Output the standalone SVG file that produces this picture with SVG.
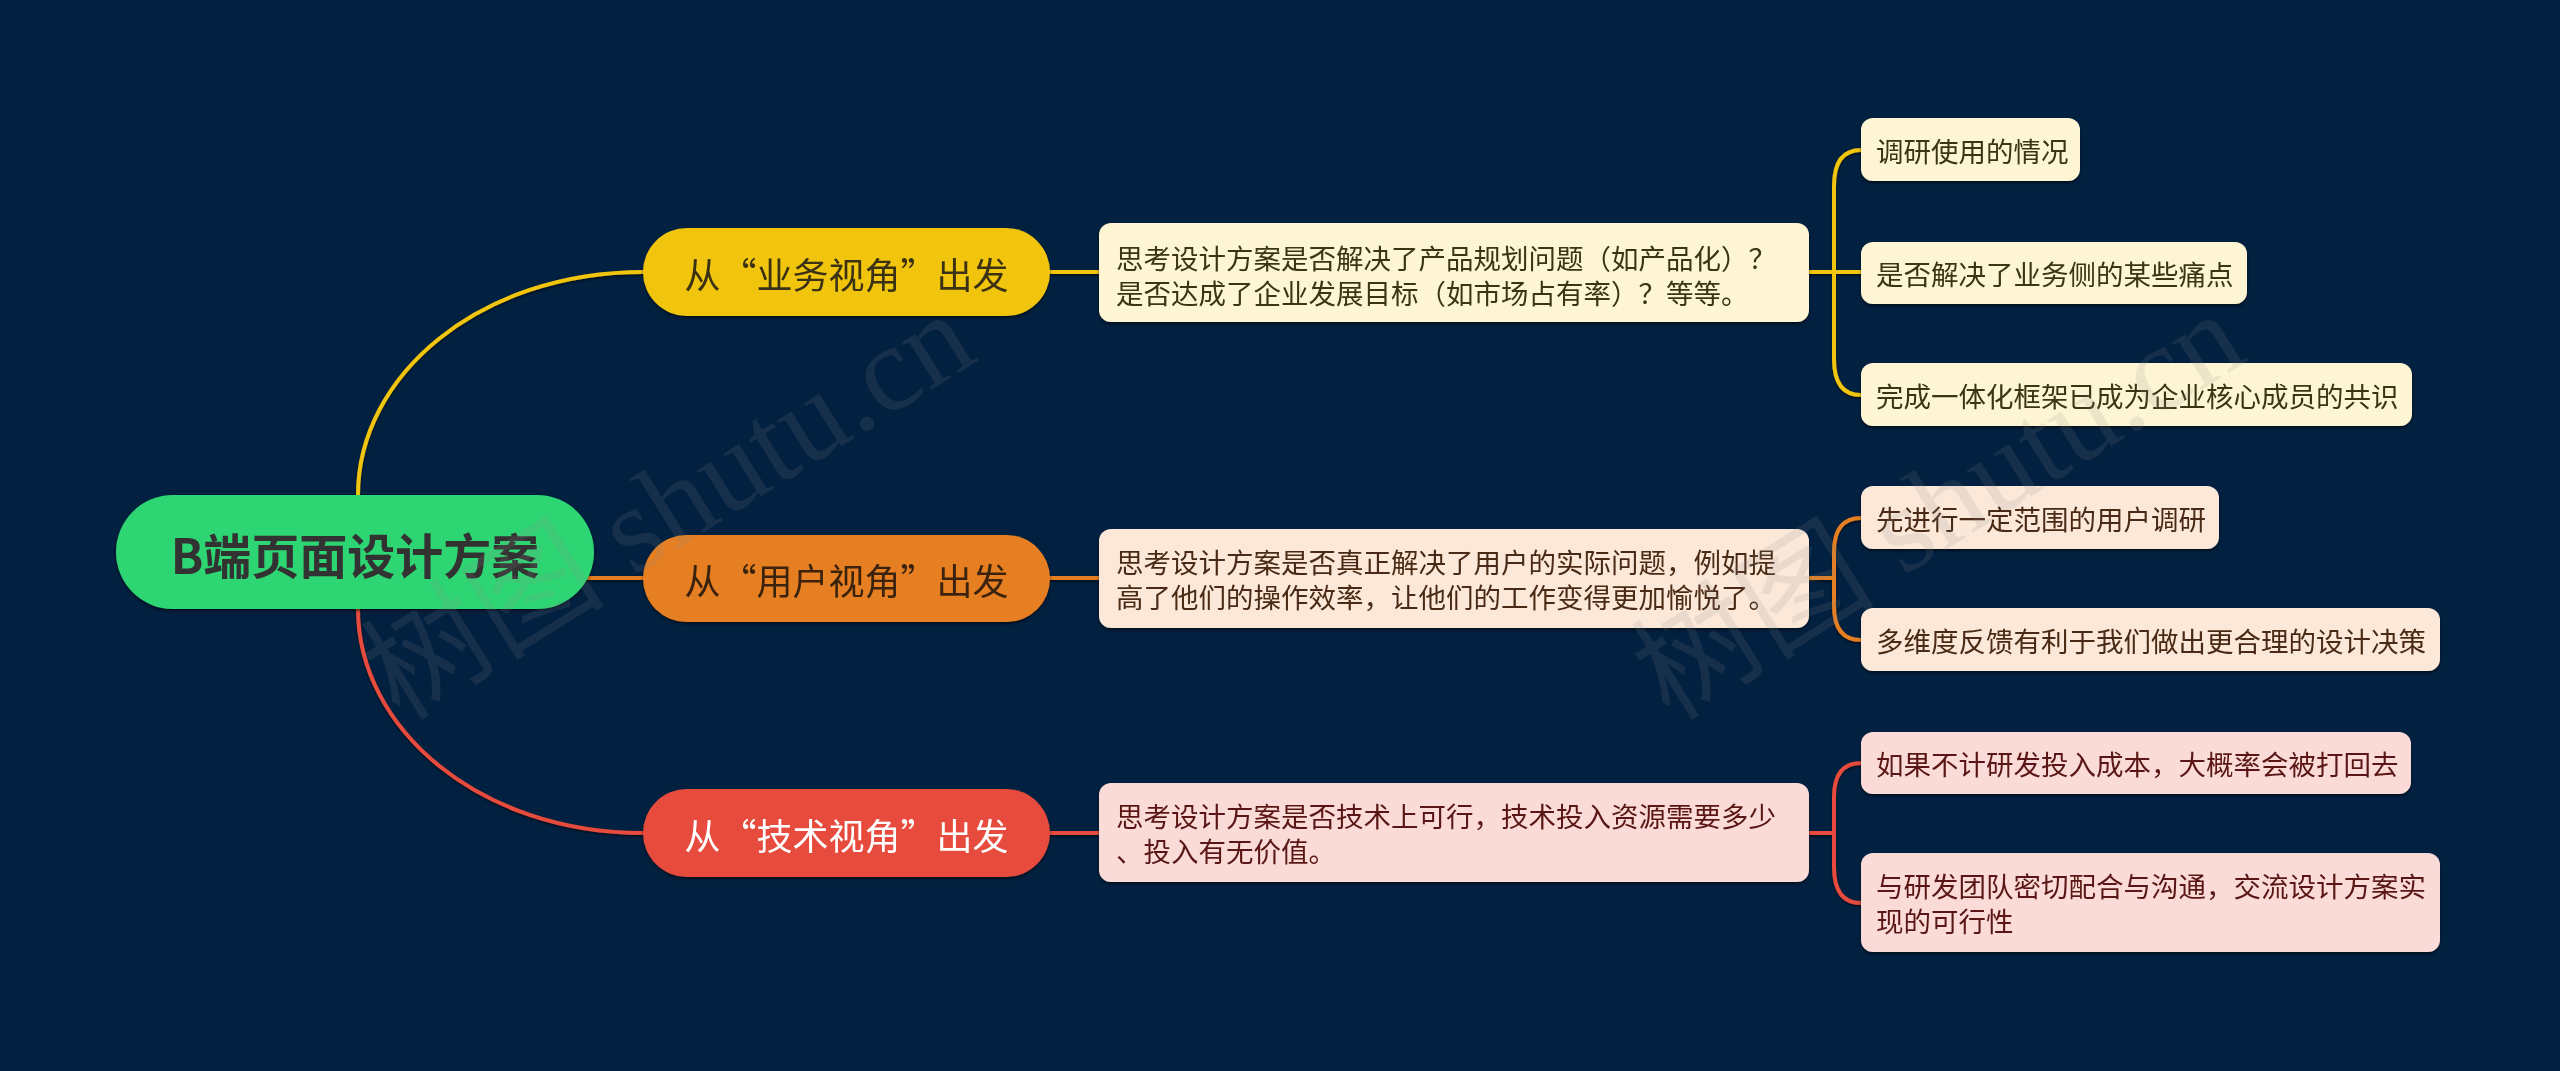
<svg xmlns="http://www.w3.org/2000/svg" width="2560" height="1071" viewBox="0 0 2560 1071">
<defs>
<filter id="sh" x="-10%" y="-20%" width="120%" height="150%">
<feDropShadow dx="0" dy="2" stdDeviation="1.5" flood-color="#000" flood-opacity="0.55"/>
</filter>
<filter id="lsh" x="-5%" y="-5%" width="110%" height="110%">
<feDropShadow dx="0" dy="1.5" stdDeviation="1" flood-color="#000" flood-opacity="0.6"/>
</filter>
</defs>
<style>
text{font-family:"Noto Sans CJK SC","Noto Sans",sans-serif;dominant-baseline:central}
.root{font-size:48px;font-weight:bold;fill:#333333;text-anchor:middle}
.br{font-size:36px;text-anchor:middle}
.t{font-size:27.5px}
.cy{fill:none;stroke:#f1c40f;stroke-width:4;stroke-linecap:round}
.co{fill:none;stroke:#e67e22;stroke-width:4;stroke-linecap:round}
.cr{fill:none;stroke:#e74c3c;stroke-width:4;stroke-linecap:round}
.ny{fill:#fdf5d3}
.no{fill:#fbe8d9}
.nr{fill:#fadbd8}
.ty{fill:#3b3414}
.to{fill:#4a2a12}
.tr{fill:#5a1712}
.wm{font-family:"Liberation Serif","Noto Sans CJK SC",serif;font-size:122px;fill:#8a8a8a;fill-opacity:0.15;dominant-baseline:alphabetic}
</style>
<rect x="0" y="0" width="2560" height="1071" fill="#022040"/>

<g id="connectors" filter="url(#lsh)">
<path class="cy" d="M358 495 C358 375 480 272 643 272"/>
<path class="co" d="M560 578 H643"/>
<path class="cr" d="M358 609 C358 729 480 833 643 833"/>
<path class="cy" d="M1050 272 H1099"/>
<path class="co" d="M1050 578 H1099"/>
<path class="cr" d="M1050 833 H1099"/>
<path class="cy" d="M1809 272 H1861"/>
<path class="cy" d="M1834 272 V186 Q1834 150 1861 150"/>
<path class="cy" d="M1834 272 V359 Q1834 395 1861 395"/>
<path class="co" d="M1809 578 H1834"/>
<path class="co" d="M1834 578 V552 Q1834 518 1861 518"/>
<path class="co" d="M1834 578 V606 Q1834 640 1861 640"/>
<path class="cr" d="M1809 833 H1834"/>
<path class="cr" d="M1834 833 V797 Q1834 763 1861 763"/>
<path class="cr" d="M1834 833 V867 Q1834 903 1861 903"/>
</g>

<g id="root" filter="url(#sh)">
<rect x="116" y="495" width="478" height="114" rx="57" fill="#2ed573"/>
<text class="root" x="355" y="553">B端页面设计方案</text>
</g>

<g id="branch-business" filter="url(#sh)">
<rect x="643" y="228" width="407" height="88" rx="44" fill="#f1c40f"/>
<text class="br" x="846.5" y="273" fill="#3a3212">从“业务视角”出发</text>
</g>
<g id="branch-user" filter="url(#sh)">
<rect x="643" y="535" width="407" height="87" rx="43.5" fill="#e67e22"/>
<text class="br" x="846.5" y="579" fill="#3b2410">从“用户视角”出发</text>
</g>
<g id="branch-tech" filter="url(#sh)">
<rect x="643" y="789" width="407" height="88" rx="44" fill="#e74c3c"/>
<text class="br" x="846.5" y="834" fill="#ffffff">从“技术视角”出发</text>
</g>

<g id="desc-business" filter="url(#sh)">
<rect class="ny" x="1099" y="223" width="710" height="99" rx="12"/>
<text class="t ty" x="1116" y="257">思考设计方案是否解决了产品规划问题（如产品化）？</text>
<text class="t ty" x="1116" y="292">是否达成了企业发展目标（如市场占有率）？等等。</text>
</g>
<g id="desc-user" filter="url(#sh)">
<rect class="no" x="1099" y="529" width="710" height="99" rx="12"/>
<text class="t to" x="1116" y="561">思考设计方案是否真正解决了用户的实际问题，例如提</text>
<text class="t to" x="1116" y="596">高了他们的操作效率，让他们的工作变得更加愉悦了。</text>
</g>
<g id="desc-tech" filter="url(#sh)">
<rect class="nr" x="1099" y="783" width="710" height="99" rx="12"/>
<text class="t tr" x="1116" y="815">思考设计方案是否技术上可行，技术投入资源需要多少</text>
<text class="t tr" x="1116" y="850">、投入有无价值。</text>
</g>

<g id="leaf-1" filter="url(#sh)">
<rect class="ny" x="1861" y="118" width="219" height="63" rx="12"/>
<text class="t ty" x="1876" y="150">调研使用的情况</text>
</g>
<g id="leaf-2" filter="url(#sh)">
<rect class="ny" x="1861" y="242" width="386" height="62" rx="12"/>
<text class="t ty" x="1876" y="273">是否解决了业务侧的某些痛点</text>
</g>
<g id="leaf-3" filter="url(#sh)">
<rect class="ny" x="1861" y="363" width="551" height="63" rx="12"/>
<text class="t ty" x="1876" y="395">完成一体化框架已成为企业核心成员的共识</text>
</g>
<g id="leaf-4" filter="url(#sh)">
<rect class="no" x="1861" y="486" width="358" height="63" rx="12"/>
<text class="t to" x="1876" y="518">先进行一定范围的用户调研</text>
</g>
<g id="leaf-5" filter="url(#sh)">
<rect class="no" x="1861" y="608" width="579" height="63" rx="12"/>
<text class="t to" x="1876" y="640">多维度反馈有利于我们做出更合理的设计决策</text>
</g>
<g id="leaf-6" filter="url(#sh)">
<rect class="nr" x="1861" y="732" width="550" height="62" rx="12"/>
<text class="t tr" x="1876" y="763">如果不计研发投入成本，大概率会被打回去</text>
</g>
<g id="leaf-7" filter="url(#sh)">
<rect class="nr" x="1861" y="853" width="579" height="99" rx="12"/>
<text class="t tr" x="1876" y="885">与研发团队密切配合与沟通，交流设计方案实</text>
<text class="t tr" x="1876" y="920">现的可行性</text>
</g>

<g id="watermark">
<text class="wm" transform="translate(400 722) rotate(-32)">树图 shutu.cn</text>
<text class="wm" transform="translate(1670 722) rotate(-32)">树图 shutu.cn</text>
</g>
</svg>
